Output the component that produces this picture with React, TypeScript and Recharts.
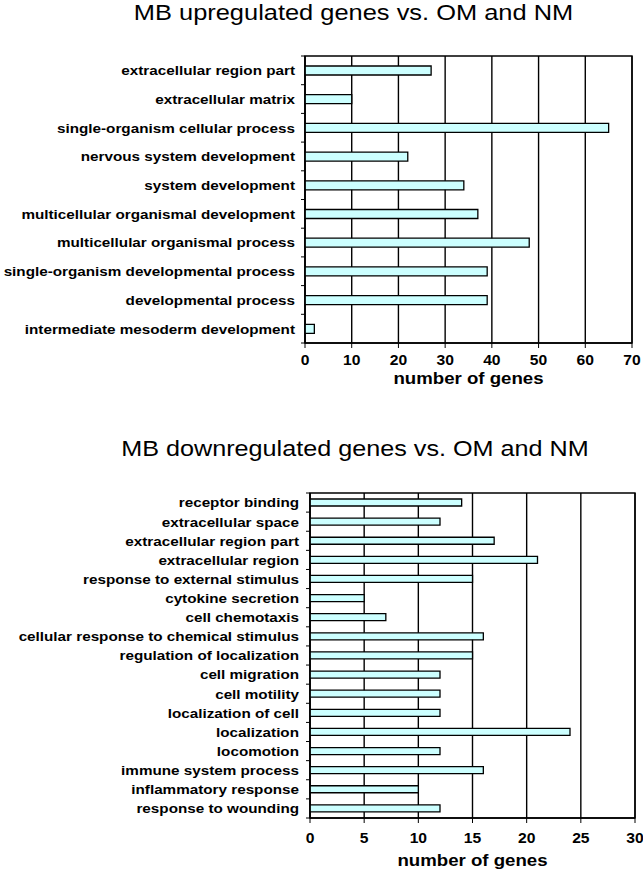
import React from "react";
import {
  BarChart,
  Bar,
  XAxis,
  YAxis,
  CartesianGrid,
  ReferenceArea,
} from "recharts";

const upCategories = [
  "extracellular region part",
  "extracellular matrix",
  "single-organism cellular process",
  "nervous system development",
  "system development",
  "multicellular organismal development",
  "multicellular organismal process",
  "single-organism developmental process",
  "developmental process",
  "intermediate mesoderm development",
];
const upValues = [27, 10, 65, 22, 34, 37, 48, 39, 39, 2];
const upTicks = [0, 10, 20, 30, 40, 50, 60, 70];

const downCategories = [
  "receptor binding",
  "extracellular space",
  "extracellular region part",
  "extracellular region",
  "response to external stimulus",
  "cytokine secretion",
  "cell chemotaxis",
  "cellular response to chemical stimulus",
  "regulation of localization",
  "cell migration",
  "cell motility",
  "localization of cell",
  "localization",
  "locomotion",
  "immune system process",
  "inflammatory response",
  "response to wounding",
];
const downValues = [14, 12, 17, 21, 15, 5, 7, 16, 15, 12, 12, 12, 24, 12, 16, 10, 12];
const downTicks = [0, 5, 10, 15, 20, 25, 30];

const upTitle = "MB upregulated genes vs. OM and NM";
const downTitle = "MB downregulated genes vs. OM and NM";
const xLabel = "number of genes";

const FONT = "'Liberation Sans', Arial, Helvetica, sans-serif";
const SX = 1.13;

const upData = upCategories.map((name, i) => ({ name, value: upValues[i] }));
const downData = downCategories.map((name, i) => ({ name, value: downValues[i] }));

function makeYTick(band: number, count: number, fontSize: number, gap: number) {
  return (props: any) => {
    const { x, y, payload, index } = props;
    const ax = x + gap;
    const top = y - band / 2;
    return (
      <g>
        <line x1={ax - 4} x2={ax} y1={top} y2={top} stroke="#000" strokeWidth={1} />
        {index === count - 1 && (
          <line x1={ax - 4} x2={ax} y1={y + band / 2} y2={y + band / 2} stroke="#000" strokeWidth={1} />
        )}
        <text
          transform={`translate(${x},${y}) scale(${SX},1)`}
          x={0}
          y={0}
          dy="0.36em"
          textAnchor="end"
          fontFamily={FONT}
          fontWeight="bold"
          fontSize={fontSize}
          fill="#000"
        >
          {payload.value}
        </text>
      </g>
    );
  };
}

const XTick = (props: any) => {
  const { x, y, payload } = props;
  return (
    <text
      transform={`translate(${x},${y}) scale(1.08,1)`}
      x={0}
      y={0}
      dy="0.71em"
      textAnchor="middle"
      fontFamily={FONT}
      fontWeight="bold"
      fontSize={14.5}
      fill="#000"
    >
      {payload.value}
    </text>
  );
};

const Panel = ({
  data,
  ticks,
  max,
  width,
  height,
  top,
  right,
  yWidth,
  plotHeight,
  barSize,
  labelFont,
  gap,
  xMargin,
}: any) => {
  const band = plotHeight / data.length;
  return (
    <BarChart
      width={width}
      height={height}
      data={data}
      layout="vertical"
      margin={{ top, right, bottom: 0, left: 0 }}
    >
      <CartesianGrid horizontal={false} vertical={true} stroke="#000" strokeWidth={1.4} />
      <XAxis
        type="number"
        domain={[0, max]}
        ticks={ticks}
        interval={0}
        allowDataOverflow
        height={height - top - plotHeight}
        tickSize={5}
        tickMargin={xMargin}
        stroke="#000"
        axisLine={{ stroke: "#000", strokeWidth: 1.4 }}
        tick={<XTick />}
      />
      <YAxis
        type="category"
        dataKey="name"
        width={yWidth}
        interval={0}
        tickLine={false}
        tickSize={0}
        tickMargin={gap}
        axisLine={{ stroke: "#000", strokeWidth: 1.4 }}
        tick={makeYTick(band, data.length, labelFont, gap)}
      />
      <ReferenceArea
        x1={0}
        x2={max}
        fill="none"
        fillOpacity={0}
        stroke="#000"
        strokeWidth={1.4}
        ifOverflow="visible"
      />
      <Bar
        dataKey="value"
        fill="#ccffff"
        stroke="#000"
        strokeWidth={1.3}
        barSize={barSize}
        isAnimationActive={false}
      />
    </BarChart>
  );
};

const ScaledText = ({ x, y, size, weight, children }: any) => (
  <text
    transform={`translate(${x},${y}) scale(${SX},1)`}
    x={0}
    y={0}
    textAnchor="middle"
    fontFamily={FONT}
    fontSize={size}
    fontWeight={weight}
    fill="#000"
  >
    {children}
  </text>
);

export default function App() {
  return (
    <div
      style={{
        position: "absolute",
        left: 0,
        top: 0,
        width: 643,
        height: 874,
        background: "#fff",
        fontFamily: FONT,
      }}
    >
      <div style={{ position: "absolute", left: 0, top: 0 }}>
        <Panel
          data={upData}
          ticks={upTicks}
          max={70}
          width={643}
          height={400}
          top={56}
          right={11}
          yWidth={305}
          plotHeight={287}
          barSize={9}
          labelFont={13.5}
          gap={10}
          xMargin={7}
        />
      </div>
      <div style={{ position: "absolute", left: 0, top: 430 }}>
        <Panel
          data={downData}
          ticks={downTicks}
          max={30}
          width={643}
          height={444}
          top={63}
          right={8}
          yWidth={310}
          plotHeight={325}
          barSize={7}
          labelFont={13.5}
          gap={11}
          xMargin={10}
        />
      </div>
      <svg
        width={643}
        height={874}
        style={{ position: "absolute", left: 0, top: 0, pointerEvents: "none" }}
      >
        <ScaledText x={353.5} y={20} size={22.5} weight="normal">
          {upTitle}
        </ScaledText>
        <ScaledText x={355} y={456} size={22.3} weight="normal">
          {downTitle}
        </ScaledText>
        <ScaledText x={468.5} y={384} size={16.5} weight="bold">
          {xLabel}
        </ScaledText>
        <ScaledText x={472.5} y={866} size={16.5} weight="bold">
          {xLabel}
        </ScaledText>
      </svg>
    </div>
  );
}
